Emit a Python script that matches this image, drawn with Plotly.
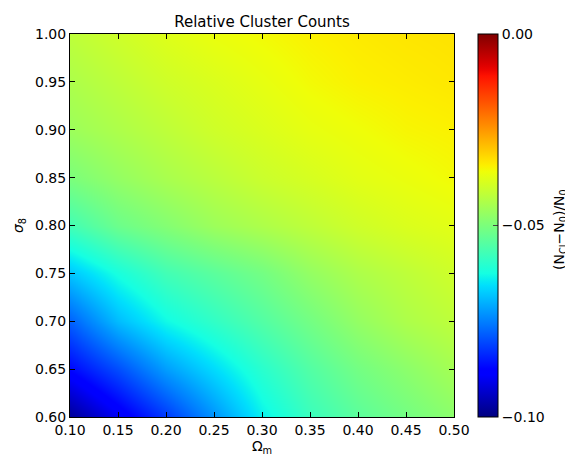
import numpy as np
import plotly.graph_objects as go

# ---- data ----
omega_m = [0.10, 0.15, 0.20, 0.25, 0.30, 0.35, 0.40, 0.45, 0.50]
sigma_8 = [0.60, 0.65, 0.70, 0.75, 0.80, 0.85, 0.90, 0.95, 1.00]
# relative cluster counts (N_Cl - N_0)/N_0, rows = sigma_8, cols = omega_m
rel_counts = [
    [-0.0980, -0.0900, -0.0820, -0.0730, -0.0640, -0.0580, -0.0540, -0.0510, -0.0480],
    [-0.0870, -0.0800, -0.0720, -0.0660, -0.0600, -0.0550, -0.0510, -0.0480, -0.0450],
    [-0.0780, -0.0690, -0.0630, -0.0590, -0.0550, -0.0510, -0.0470, -0.0440, -0.0420],
    [-0.0680, -0.0620, -0.0570, -0.0540, -0.0510, -0.0470, -0.0440, -0.0420, -0.0400],
    [-0.0570, -0.0520, -0.0490, -0.0460, -0.0440, -0.0420, -0.0400, -0.0385, -0.0375],
    [-0.0500, -0.0470, -0.0445, -0.0425, -0.0405, -0.0390, -0.0375, -0.0365, -0.0355],
    [-0.0460, -0.0440, -0.0420, -0.0400, -0.0385, -0.0370, -0.0360, -0.0350, -0.0345],
    [-0.0440, -0.0420, -0.0400, -0.0385, -0.0370, -0.0355, -0.0345, -0.0340, -0.0335],
    [-0.0420, -0.0400, -0.0380, -0.0365, -0.0355, -0.0345, -0.0338, -0.0333, -0.0330],
]
x_ticks = [0.10, 0.15, 0.20, 0.25, 0.30, 0.35, 0.40, 0.45, 0.50]
y_ticks = [0.60, 0.65, 0.70, 0.75, 0.80, 0.85, 0.90, 0.95, 1.00]
cbar_ticks = [-0.10, -0.05, 0.00]

# ---- matplotlib "jet" colormap as a plotly colorscale ----
_seg = {
    "r": [(0, 0), (0.35, 0), (0.66, 1), (0.89, 1), (1, 0.5)],
    "g": [(0, 0), (0.125, 0), (0.375, 1), (0.64, 1), (0.91, 0), (1, 0)],
    "b": [(0, 0.5), (0.11, 1), (0.34, 1), (0.65, 0), (1, 0)],
}
def _ch(name, t):
    pts = _seg[name]
    return float(np.interp(t, [p[0] for p in pts], [p[1] for p in pts]))
jet = []
for t in np.linspace(0, 1, 65):
    jet.append([float(t), "rgb(%d,%d,%d)" % tuple(round(255 * _ch(c, t)) for c in "rgb")])

font = "DejaVu Sans"
OFF = 8  # page body margin
W, H = 573 - OFF, 456 - OFF
L, R, T, B = 70 - OFF, 454 - OFF, 34 - OFF, 417 - OFF
CB_X = 478 - OFF
CB_TITLE_X = 560 - OFF
CB_TITLE_Y = 230 - OFF
TITLE_Y = 22 - OFF

fig = go.Figure(go.Heatmap(
    x=omega_m, y=sigma_8, z=rel_counts,
    zmin=-0.10, zmax=0.00, zsmooth="best",
    colorscale=jet,
    colorbar=dict(
        x=(CB_X - L) / (R - L), xanchor="left", xpad=0, ypad=0,
        y=0.5, yanchor="middle", len=1, lenmode="fraction",
        thickness=20, outlinewidth=1, outlinecolor="black",
        tickvals=cbar_ticks, tickformat=".2f", ticks="inside", ticklen=5,
        tickfont=dict(family=font, size=14, color="black"),
    ),
))

axis_common = dict(
    showline=True, linecolor="black", linewidth=1, mirror="ticks",
    ticks="inside", ticklen=5, tickcolor="black", showgrid=False, zeroline=False,
    tickfont=dict(family=font, size=14, color="black"), automargin=False,
)
fig.update_xaxes(range=[0.10, 0.50], tickvals=x_ticks, tickformat=".2f",
                 title=dict(text="Ω<sub>m</sub>", standoff=2,
                            font=dict(family=font, size=14, color="black")),
                 **axis_common)
fig.update_yaxes(range=[0.60, 1.00], tickvals=y_ticks, tickformat=".2f",
                 title=dict(text="<i>σ</i><sub>8</sub>", standoff=8,
                            font=dict(family=font, size=14, color="black")),
                 **axis_common)

fig.add_annotation(
    text="(N<sub>Cl</sub>−N<sub>0</sub>)/N<sub>0</sub>",
    xref="paper", yref="paper", x=(CB_TITLE_X - L) / (R - L),
    y=(B - CB_TITLE_Y) / (B - T),
    xanchor="center", yanchor="middle", textangle=-90, showarrow=False,
    font=dict(family=font, size=14, color="black"),
)

fig.update_layout(
    width=W, height=H,
    margin=dict(l=L, r=W - R, t=T, b=H - B, autoexpand=False),
    paper_bgcolor="white", plot_bgcolor="white",
    title=dict(text="Relative Cluster Counts", x=(L + R) / 2 / W, xanchor="center",
               y=1 - TITLE_Y / H, yanchor="middle", yref="container",
               font=dict(family=font, size=15, color="black")),
)

fig.write_html("out.html")
